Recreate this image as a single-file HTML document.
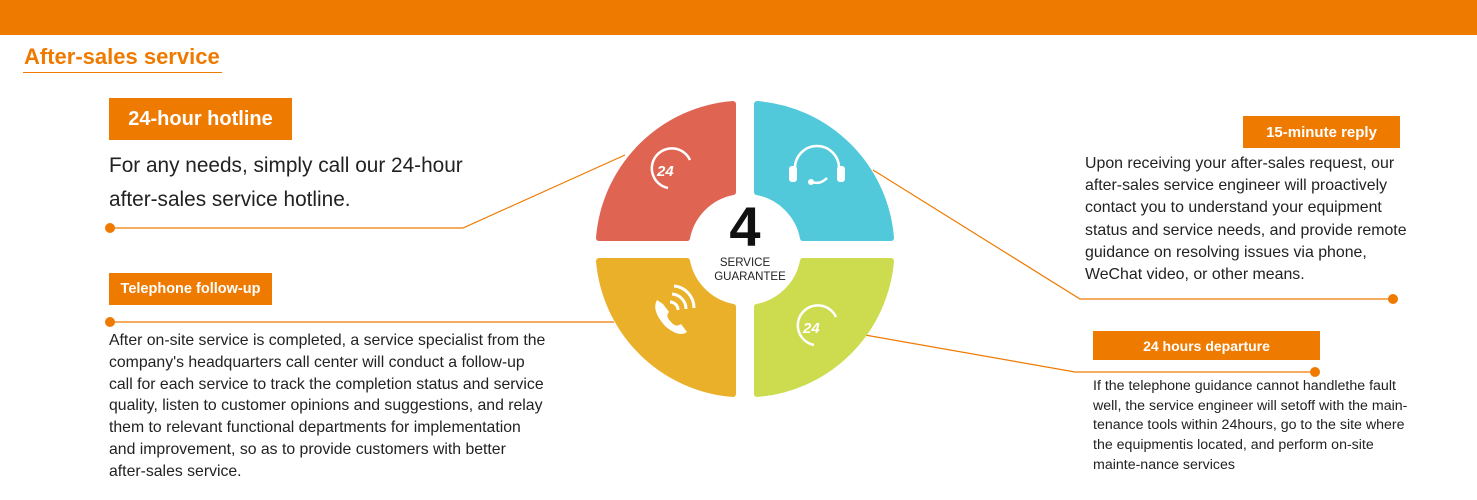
<!DOCTYPE html>
<html><head><meta charset="utf-8"><style>
*{margin:0;padding:0;box-sizing:border-box}
body{width:1477px;height:500px;background:#fff;position:relative;overflow:hidden;font-family:"Liberation Sans","Noto Sans CJK SC",sans-serif;color:#222}
.a{position:absolute;white-space:nowrap}
.box{position:absolute;background:#ef7a00;color:#fff;font-weight:bold;display:flex;align-items:center;justify-content:center}
</style></head><body>
<div class="a" style="left:0;top:0;width:1477px;height:35px;background:#ef7a00"></div>
<div class="a" style="left:24px;top:44px;font-size:22px;font-weight:bold;color:#ef7a00">After-sales service</div>
<div class="a" style="left:23px;top:72px;width:199px;height:1px;background:#ef7a00"></div>

<div class="box" style="left:109px;top:98px;width:183px;height:42px;font-size:20px">24-hour hotline</div>
<div class="a" style="left:109px;top:149px;font-size:20.8px;line-height:34px">For any needs, simply call our 24-hour<br>after-sales service hotline.</div>

<div class="box" style="left:109px;top:273px;width:163px;height:32px;font-size:14.5px">Telephone follow-up</div>
<div class="a" style="left:109px;top:330px;font-size:15.8px;line-height:21.8px">After on-site service is completed, a service specialist from the<br>company's headquarters call center will conduct a follow-up<br>call for each service to track the completion status and service<br>quality, listen to customer opinions and suggestions, and relay<br>them to relevant functional departments for implementation<br>and improvement, so as to provide customers with better<br>after-sales service.</div>

<div class="box" style="left:1243px;top:116px;width:157px;height:32px;font-size:15px">15-minute reply</div>
<div class="a" style="left:1085px;top:153px;font-size:15.9px;line-height:22.2px">Upon receiving your after-sales request, our<br>after-sales service engineer will proactively<br>contact you to understand your equipment<br>status and service needs, and provide remote<br>guidance on resolving issues via phone,<br>WeChat video, or other means.</div>

<div class="box" style="left:1093px;top:331px;width:227px;height:29px;font-size:14px">24 hours departure</div>
<div class="a" style="left:1093px;top:377px;font-size:14.2px;line-height:19.7px">If the telephone guidance cannot handlethe fault<br>well, the service engineer will setoff with the main-<br>tenance tools within 24hours, go to the site where<br>the equipmentis located, and perform on-site<br>mainte-nance services</div>

<svg class="a" style="left:0;top:0" width="1477" height="500">
<g stroke="#ef7a00" stroke-width="1.2" fill="none">
<polyline points="110,228 463,228 625,155"/>
<polyline points="110,322 614,322"/>
<polyline points="1393,299 1080,299 873,170"/>
<polyline points="1315,372 1075,372 865,335"/>
</g>
<g fill="#ef7a00">
<circle cx="110" cy="228" r="5"/><circle cx="110" cy="322" r="5"/>
<circle cx="1393" cy="299" r="5"/><circle cx="1315" cy="372" r="5"/>
</g>
<g stroke-linejoin="round" stroke-width="6">
<path d="M733,104 A146,146 0 0 0 599,238 L687,238 A58,58 0 0 1 733,192 Z" fill="#df6552" stroke="#df6552"/>
<path d="M757,104 A146,146 0 0 1 891,238 L803,238 A58,58 0 0 0 757,192 Z" fill="#52c9da" stroke="#52c9da"/>
<path d="M733,394 A146,146 0 0 1 599,261 L687,261 A58,58 0 0 0 733,307 Z" fill="#eab02a" stroke="#eab02a"/>
<path d="M757,394 A146,146 0 0 0 891,261 L803,261 A58,58 0 0 1 757,307 Z" fill="#cddb4f" stroke="#cddb4f"/>
</g>
<g fill="none" stroke="#fff" stroke-width="2.5">
<path d="M690,160 A20,20 0 1 0 668,188"/>
<path d="M836,317 A20,20 0 1 0 814,345"/>
<path d="M795,175 V168 A22,22 0 0 1 839,168 V175"/>
<path d="M827,178 Q820,185 812,182"/>
</g>
<g fill="#fff">
<text x="657" y="176" font-size="15" font-weight="bold" font-style="italic" font-family="Liberation Sans,sans-serif">24</text>
<text x="803" y="333" font-size="15" font-weight="bold" font-style="italic" font-family="Liberation Sans,sans-serif">24</text>
<rect x="789" y="166" width="8" height="16" rx="3"/><rect x="837" y="166" width="8" height="16" rx="3"/>
<circle cx="811" cy="182" r="3"/>
<path d="M657,300 q-6,10 8,26 q14,12 22,6 l-6,-8 q-5,4 -10,-2 q-6,-6 -2,-10 l-6,-8z"/>
</g>
<g fill="none" stroke="#fff" stroke-width="3">
<path d="M670,302 a8,8 0 0 1 8,8"/><path d="M672,294 a15,15 0 0 1 14,15"/><path d="M674,286 a22,22 0 0 1 20,22"/>
</g>
<text x="745" y="246" text-anchor="middle" font-size="56" font-weight="bold" fill="#111" font-family="Liberation Sans,sans-serif">4</text>
<text x="745" y="266" text-anchor="middle" font-size="11.5" fill="#222" font-family="Liberation Sans,sans-serif">SERVICE</text>
<text x="750" y="280" text-anchor="middle" font-size="11.5" fill="#222" font-family="Liberation Sans,sans-serif">GUARANTEE</text>
</svg>
</body></html>
